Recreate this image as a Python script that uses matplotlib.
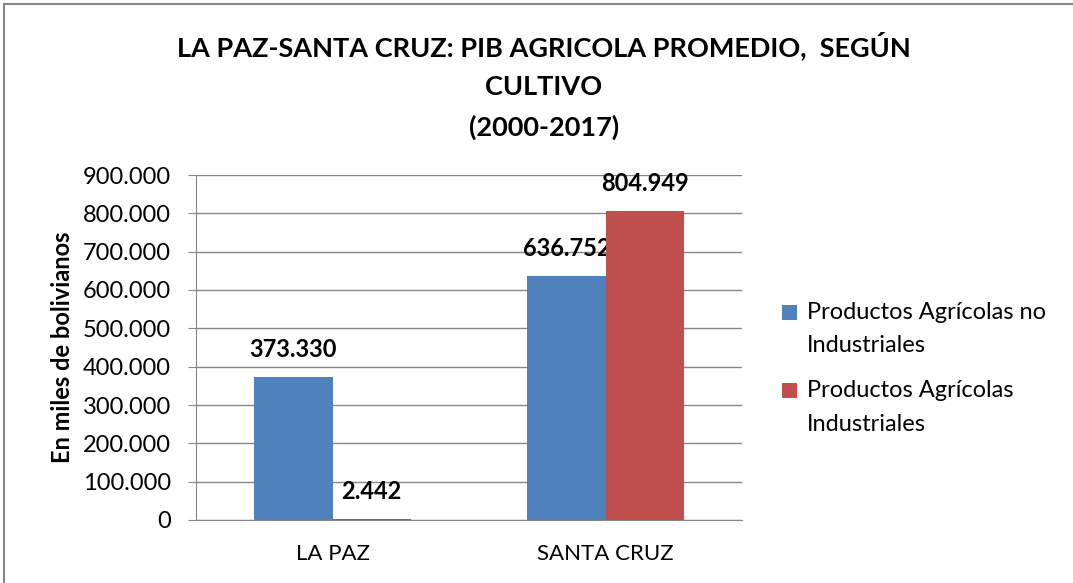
import numpy as np
import matplotlib.pyplot as plt
from matplotlib.patches import Rectangle
from matplotlib.container import BarContainer
from matplotlib.legend_handler import HandlerPatch

plt.rcParams['font.family'] = ['Lato', 'DejaVu Sans']

# datos del gráfico
categorias = ['LA PAZ', 'SANTA CRUZ']
series = ['Productos Agrícolas no\nIndustriales', 'Productos Agrícolas\nIndustriales']
no_industriales = [373330, 636752]
industriales = [2442, 804949]
colores = ['#4F81BD', '#C0504D']
yticks = np.arange(0, 900001, 100000)


def fmt(v):
    return f'{v:,.0f}'.replace(',', '.')


# cuadrado de la leyenda alineado con la primera línea del texto
def cuadro(legend, orig_handle, xdescent, ydescent, width, height, fontsize):
    return Rectangle((-xdescent, -ydescent + 12), width, height)


def copiar(handle, orig):
    handle.update_from(orig.patches[0])


fig = plt.figure(figsize=(10.73, 5.83), dpi=100)
fig.patches.append(Rectangle((4 / 1073, -0.01), 1.0, 1 - 4 / 583 + 0.01, transform=fig.transFigure,
                             fill=False, edgecolor='#868686', linewidth=1.5))
ax = fig.add_axes([196 / 1073, 63 / 583, 546 / 1073, 345 / 583])

x = np.arange(len(categorias))
w = 0.286
valores = [no_industriales, industriales]
for i, (vals, nombre, c) in enumerate(zip(valores, series, colores)):
    pos = x + (i - 0.5) * w
    ax.bar(pos, vals, width=w, color=c, label=nombre, zorder=3)
    for xp, v in zip(pos, vals):
        ax.annotate(fmt(v), (xp, v), xytext=(0, 20), textcoords='offset points',
                    ha='center', va='center', fontsize=17, fontweight='bold')

ax.set_xlim(-0.5, 1.5)
ax.set_ylim(0, 900000)
ax.set_yticks(yticks)
ax.set_yticklabels([fmt(v) for v in yticks], fontsize=17)
ax.set_xticks(x)
ax.set_xticklabels(categorias, fontsize=16)
ax.tick_params(axis='x', length=0, pad=17)
ax.tick_params(axis='y', length=6, color='#868686', pad=12)
ax.grid(axis='y', color='#868686', linewidth=1, zorder=0)
for s in ['top', 'right']:
    ax.spines[s].set_visible(False)
for s in ['left', 'bottom']:
    ax.spines[s].set_color('#868686')
ax.set_ylabel('En miles de bolivianos', fontsize=17, fontweight='bold', labelpad=6)

fig.text(0.507, 0.947, 'LA PAZ-SANTA CRUZ: PIB AGRICOLA PROMEDIO,  SEGÚN\nCULTIVO\n(2000-2017)',
         ha='center', va='top', fontsize=19.5, fontweight='bold', linespacing=1.75)

leg = ax.legend(loc='center left', bbox_to_anchor=(1.035, 0.44), frameon=False, fontsize=17,
                handlelength=0.6, handleheight=0.6, handletextpad=0.45, labelspacing=1.0,
                handler_map={BarContainer: HandlerPatch(patch_func=cuadro, update_func=copiar)})
for t in leg.get_texts():
    t.set_linespacing(1.75)

fig.savefig('out.png', dpi=100)
